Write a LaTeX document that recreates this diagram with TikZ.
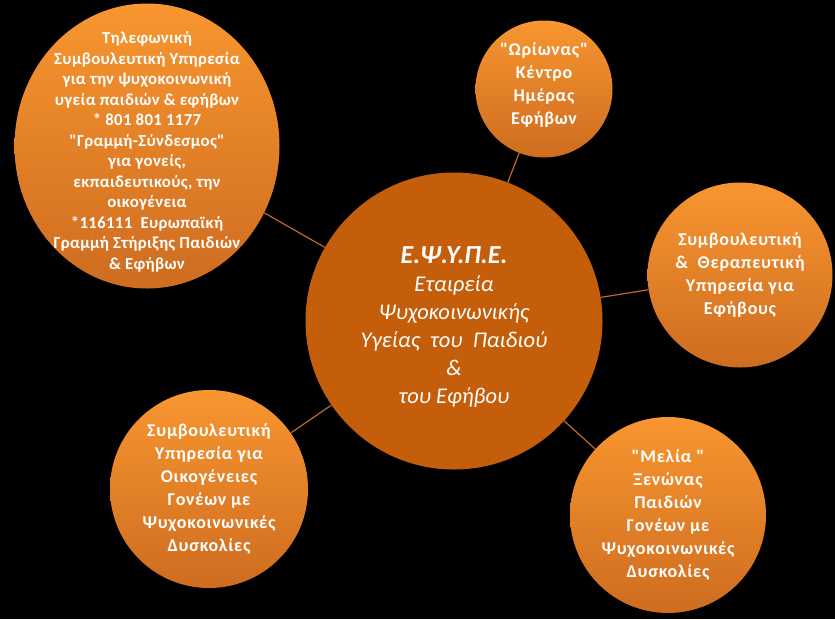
\documentclass[tikz,border=0pt]{standalone}
\usepackage{fontspec}
\setmainfont{Carlito}[Ligatures=TeXOff]
\usepackage{tikz}
\usetikzlibrary{shapes.geometric}
\definecolor{hubfill}{RGB}{197,94,10}
\definecolor{sattop}{RGB}{248,150,48}
\definecolor{satbot}{RGB}{206,108,32}
\definecolor{linkcol}{RGB}{190,105,45}
\tikzset{
  satcirc/.style={circle, top color=sattop, bottom color=satbot,
    draw=none, inner sep=0pt},
  satoval/.style={ellipse, top color=sattop, bottom color=satbot,
    draw=none, inner sep=0pt},
  sattext/.style={text=white, align=center, inner sep=0pt,
    font=\fontsize{18}{23}\selectfont\bfseries\addfontfeatures{LetterSpace=4}},
  hubcirc/.style={circle, fill=hubfill, draw=none, inner sep=0pt},
  hubtext/.style={text=white, align=center, inner sep=0pt,
    font=\fontsize{22.5}{28}\selectfont\itshape},
  link/.style={line width=1.2pt, color=linkcol}
}

\begin{document}
\begin{tikzpicture}[x=1pt, y=-1pt]
  \fill[black] (0,0) rectangle (835,619);

  \node[hubcirc, minimum size=297pt] (hub) at (454,321) {};
  \node[satoval, minimum width=265pt, minimum height=285pt] (tel) at (147,146) {};
  \node[satcirc, minimum size=137pt] (orion) at (544,89) {};
  \node[satcirc, minimum size=185pt] (ther) at (740,275) {};
  \node[satcirc, minimum size=198pt] (fam) at (209,489) {};
  \node[satcirc, minimum size=196pt] (melia) at (668,515) {};

  \draw[link] (hub) -- (tel);
  \draw[link] (hub) -- (orion);
  \draw[link] (hub) -- (ther);
  \draw[link] (hub) -- (fam);
  \draw[link] (hub) -- (melia);

  \node[hubtext, yshift=-6pt] (hubtxt) at (hub)
    {{\fontsize{26}{27}\selectfont\bfseries Ε.Ψ.Υ.Π.Ε.}\\Εταιρεία\\Ψυχοκοινωνικής\\Υγείας~ του~ Παιδιού\\\&\\του Εφήβου};
  \node[sattext, yshift=-6pt,
    font=\fontsize{16.8}{20.5}\selectfont\bfseries\addfontfeatures{LetterSpace=2}] (teltxt) at (tel)
    {Τηλεφωνική\\Συμβουλευτική Υπηρεσία\\για την ψυχοκοινωνική\\υγεία παιδιών \& εφήβων\\* 801 801 1177\\"Γραμμή-Σύνδεσμος"\\για γονείς,\\εκπαιδευτικούς, την\\οικογένεια\\*116111~ Ευρωπαϊκή\\Γραμμή Στήριξης Παιδιών\\\& Εφήβων};
  \node[sattext, yshift=4pt] (oriontxt) at (orion) {"Ωρίωνας"\\Κέντρο\\Ημέρας\\Εφήβων};
  \node[sattext] (thertxt) at (ther) {Συμβουλευτική\\\&~ Θεραπευτική\\Υπηρεσία για\\Εφήβους};
  \node[sattext] (famtxt) at (fam) {Συμβουλευτική\\Υπηρεσία για\\Οικογένειες\\Γονέων με\\Ψυχοκοινωνικές\\Δυσκολίες};
  \node[sattext] (meliatxt) at (melia) {"Μελία "\\Ξενώνας\\Παιδιών\\Γονέων με\\Ψυχοκοινωνικές\\Δυσκολίες};
\end{tikzpicture}
\end{document}
